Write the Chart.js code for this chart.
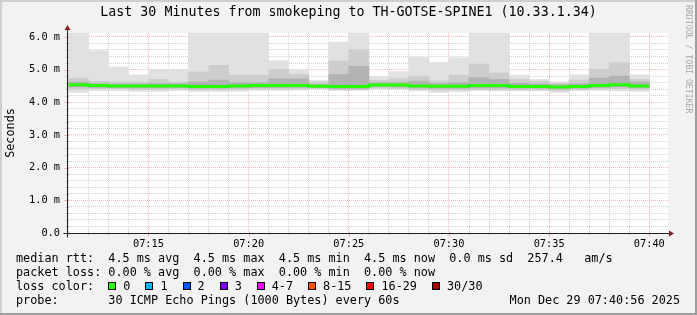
<!DOCTYPE html>
<html>
<head>
<meta charset="utf-8">
<title>Last 30 Minutes from smokeping to TH-GOTSE-SPINE1</title>
<script src="https://cdn.jsdelivr.net/npm/chart.js@4.4.1/dist/chart.umd.min.js"></script>
<style>
    html, body { margin: 0; padding: 0; background: #f2f2f2; }
    canvas { display: block; }
</style>
</head>
<body>
<canvas id="smokeChart" width="697" height="315"></canvas>
<script>
// ============================================
// Smokeping detail graph
// ============================================
// one column per 60 s step, labelled by the step end time, RTT in ms

const graphEnd = '07:40:56';
const graphSpanMinutes = 30;

const stepEnd = ['07:12', '07:13', '07:14', '07:15', '07:16', '07:17', '07:18', '07:19', '07:20', '07:21',
                 '07:22', '07:23', '07:24', '07:25', '07:26', '07:27', '07:28', '07:29', '07:30', '07:31',
                 '07:32', '07:33', '07:34', '07:35', '07:36', '07:37', '07:38', '07:39', '07:40'];

// smoke: slowest ping, upper bands, median, lower bands, fastest ping
const rttMax    = [6.20, 5.58, 5.08, 4.84, 5.01, 5.01, 6.20, 6.20, 6.20, 6.20,
                   5.27, 4.99, 4.67, 5.84, 6.20, 4.79, 4.94, 5.37, 5.22, 5.36,
                   6.20, 6.20, 4.83, 4.70, 4.63, 4.84, 6.20, 6.20, 4.84];
const rttHigh2  = [4.73, 4.64, 4.62, 4.62, 4.70, 4.62, 4.93, 5.13, 4.83, 4.83,
                   5.01, 4.85, 4.62, 5.26, 5.61, 4.67, 4.72, 4.80, 4.66, 4.83,
                   5.17, 4.90, 4.70, 4.64, 4.58, 4.68, 5.01, 5.21, 4.70];
const rttHigh1  = [4.62, 4.57, 4.56, 4.56, 4.58, 4.57, 4.62, 4.68, 4.60, 4.60,
                   4.72, 4.72, 4.55, 4.85, 5.10, 4.60, 4.60, 4.65, 4.58, 4.60,
                   4.75, 4.70, 4.58, 4.56, 4.54, 4.57, 4.74, 4.80, 4.62];
const rttMedian = [4.54, 4.51, 4.50, 4.50, 4.50, 4.50, 4.48, 4.48, 4.50, 4.51,
                   4.51, 4.51, 4.49, 4.48, 4.48, 4.53, 4.53, 4.50, 4.49, 4.49,
                   4.51, 4.51, 4.48, 4.48, 4.47, 4.48, 4.51, 4.54, 4.50];
const rttLow1   = [4.47, 4.45, 4.45, 4.44, 4.44, 4.45, 4.43, 4.43, 4.44, 4.45,
                   4.45, 4.46, 4.45, 4.42, 4.42, 4.48, 4.47, 4.44, 4.43, 4.43,
                   4.44, 4.44, 4.43, 4.43, 4.41, 4.43, 4.45, 4.47, 4.44];
const rttLow2   = [4.40, 4.41, 4.41, 4.39, 4.39, 4.40, 4.38, 4.38, 4.39, 4.40,
                   4.40, 4.41, 4.42, 4.38, 4.38, 4.43, 4.42, 4.39, 4.37, 4.38,
                   4.38, 4.38, 4.38, 4.38, 4.36, 4.38, 4.40, 4.41, 4.39];
const rttMin    = [4.30, 4.36, 4.36, 4.33, 4.33, 4.36, 4.33, 4.33, 4.33, 4.36,
                   4.36, 4.37, 4.40, 4.36, 4.36, 4.40, 4.40, 4.35, 4.30, 4.33,
                   4.36, 4.35, 4.35, 4.35, 4.30, 4.36, 4.36, 4.35, 4.33];

// axis labels
const yTickValues = [0, 1, 2, 3, 4, 5, 6];
const yTickLabels = ['0.0', '1.0 m', '2.0 m', '3.0 m', '4.0 m', '5.0 m', '6.0 m'];
const yAxisMax = 6.12;
const xTickLabels = ['07:15', '07:20', '07:25', '07:30', '07:35', '07:40'];

// legend texts
const titleText = 'Last 30 Minutes from smokeping to TH-GOTSE-SPINE1 (10.33.1.34)';
const rttLegend = 'median rtt:  4.5 ms avg  4.5 ms max  4.5 ms min  4.5 ms now  0.0 ms sd  257.4   am/s';
const lossLegend = 'packet loss: 0.00 % avg  0.00 % max  0.00 % min  0.00 % now';
const lossLabels = ['0', '1', '2', '3', '4-7', '8-15', '16-29', '30/30'];
const lossColors = ['#26ff00', '#00b8ff', '#0059ff', '#7e00ff', '#ff00ff', '#ff5500', '#ff0000', '#a10000'];
const probeLegend = 'probe:       30 ICMP Echo Pings (1000 Bytes) every 60s';
const stampText = 'Mon Dec 29 07:40:56 2025';
const watermark = 'RRDTOOL / TOBI OETIKER';

// ---- helpers ----
const MONO = '"DejaVu Sans Mono", "Liberation Mono", monospace';
const MINOR_GRID = 'rgba(165,165,165,0.5)';
const MAJOR_GRID = 'rgba(222,79,79,0.4)';

function toMinutes(hhmm) {
    const p = hhmm.split(':').map(Number);
    return p[0] * 60 + p[1] + (p[2] || 0) / 60;
}

const xMax = toMinutes(graphEnd);
const xMin = xMax - graphSpanMinutes;

function band(lo, hi) {
    return stepEnd.map((t, i) => ({ x: toMinutes(t) - 0.5, y: [lo[i], hi[i]] }));
}

function isMajorY(v) {
    return yTickValues.some(t => Math.abs(t - v) < 1e-6);
}

function xLabelFor(v) {
    const hit = xTickLabels.find(l => Math.abs(toMinutes(l) - v) < 1e-6);
    return hit || '';
}

// median line: every step holds until its end time
const medianPoints = [{ x: toMinutes(stepEnd[0]) - 1, y: rttMedian[0] }]
    .concat(stepEnd.map((t, i) => ({ x: toMinutes(t), y: rttMedian[i] })));

// background, frame, axes with arrows, title and legend block
const rrdDecor = {
    id: 'rrdDecor',
    beforeDraw(chart) {
        const { ctx, chartArea: a, width, height } = chart;
        ctx.save();
        ctx.fillStyle = '#f2f2f2';
        ctx.fillRect(0, 0, width, height);
        ctx.fillStyle = '#cfcfcf';
        ctx.fillRect(0, 0, width, 2);
        ctx.fillRect(0, 0, 2, height);
        ctx.fillStyle = '#9e9e9e';
        ctx.fillRect(0, height - 2, width, 2);
        ctx.fillRect(width - 2, 0, 2, height);
        ctx.fillStyle = '#ffffff';
        ctx.fillRect(a.left, a.top, a.right - a.left, a.bottom - a.top);
        ctx.restore();
    },
    afterDraw(chart) {
        const { ctx, chartArea: a, width } = chart;
        const xs = chart.scales.x;
        const ys = chart.scales.y;
        const x0 = Math.round(a.left) + 0.5;
        const y0 = Math.round(a.bottom) + 0.5;
        ctx.save();

        // tick marks
        ctx.lineWidth = 1;
        xs.ticks.forEach(t => {
            const px = Math.round(xs.getPixelForValue(t.value)) + 0.5;
            const major = xLabelFor(t.value) !== '';
            ctx.strokeStyle = major ? MAJOR_GRID : MINOR_GRID;
            ctx.beginPath();
            ctx.moveTo(px, y0 - 2);
            ctx.lineTo(px, y0 + (major ? 3 : 2));
            ctx.stroke();
        });
        ys.ticks.forEach(t => {
            const py = Math.round(ys.getPixelForValue(t.value)) + 0.5;
            const major = isMajorY(t.value);
            ctx.strokeStyle = major ? MAJOR_GRID : MINOR_GRID;
            ctx.beginPath();
            ctx.moveTo(x0 - (major ? 3 : 2), py);
            ctx.lineTo(x0 + 2, py);
            ctx.stroke();
        });

        // axes
        ctx.strokeStyle = '#1f1f1f';
        ctx.beginPath();
        ctx.moveTo(x0 - 4, y0);
        ctx.lineTo(a.right + 2, y0);
        ctx.moveTo(x0, y0 + 4);
        ctx.lineTo(x0, a.top - 4);
        ctx.stroke();

        // arrows
        ctx.fillStyle = '#801f1f';
        ctx.beginPath();
        ctx.moveTo(a.right + 6, y0);
        ctx.lineTo(a.right + 1, y0 - 3);
        ctx.lineTo(a.right + 1, y0 + 3);
        ctx.closePath();
        ctx.fill();
        ctx.beginPath();
        ctx.moveTo(x0, a.top - 8);
        ctx.lineTo(x0 - 3, a.top - 3);
        ctx.lineTo(x0 + 3, a.top - 3);
        ctx.closePath();
        ctx.fill();

        // title
        ctx.fillStyle = '#000000';
        ctx.font = '13.3px ' + MONO;
        ctx.textAlign = 'center';
        ctx.textBaseline = 'middle';
        ctx.fillText(titleText, width / 2, 13);

        // legend block
        ctx.font = '11.8px ' + MONO;
        ctx.textAlign = 'left';
        ctx.fillText(rttLegend, 16, 259);
        ctx.fillText(lossLegend, 16, 273);
        ctx.fillText('loss color:', 16, 287);
        const cw = ctx.measureText('0').width;
        let bx = 16 + 13 * cw;
        lossLabels.forEach((label, i) => {
            ctx.fillStyle = lossColors[i];
            ctx.fillRect(Math.round(bx), 282, 8, 8);
            ctx.strokeStyle = '#000000';
            ctx.strokeRect(Math.round(bx) + 0.5, 282.5, 7, 7);
            ctx.fillStyle = '#000000';
            ctx.fillText(label, bx + 15, 287);
            bx += 15 + ctx.measureText(label).width + 15;
        });
        ctx.fillText(probeLegend, 16, 301);
        ctx.textAlign = 'right';
        ctx.fillText(stampText, 680, 301);

        // watermark on the right edge
        ctx.translate(688, 5);
        ctx.rotate(Math.PI / 2);
        ctx.font = '8.2px ' + MONO;
        ctx.textAlign = 'left';
        ctx.fillStyle = '#a8a8a8';
        ctx.fillText(watermark, 0, 0);
        ctx.restore();
    }
};

const smokeBar = {
    type: 'bar',
    grouped: false,
    borderWidth: 0,
    barPercentage: 1,
    categoryPercentage: 1,
    clip: 0
};

new Chart(document.getElementById('smokeChart'), {
    data: {
        datasets: [
            {
                type: 'line',
                label: 'median rtt',
                data: medianPoints,
                borderColor: lossColors[0],
                borderWidth: 3,
                pointRadius: 0,
                stepped: 'after',
                fill: false,
                order: 0
            },
            Object.assign({ label: 'smoke inner', data: band(rttLow1, rttHigh1), backgroundColor: '#b2b2b2', order: 1 }, smokeBar),
            Object.assign({ label: 'smoke mid', data: band(rttLow2, rttHigh2), backgroundColor: '#cdcdcd', order: 2 }, smokeBar),
            Object.assign({ label: 'smoke outer', data: band(rttMin, rttMax), backgroundColor: '#e1e1e1', order: 3 }, smokeBar)
        ]
    },
    options: {
        responsive: false,
        animation: false,
        devicePixelRatio: 1,
        layout: { padding: { left: 0, top: 33, right: 29, bottom: 62 } },
        plugins: {
            legend: { display: false },
            title: { display: false },
            tooltip: { enabled: false }
        },
        scales: {
            x: {
                type: 'linear',
                min: xMin,
                max: xMax,
                offset: false,
                z: 1,
                afterBuildTicks: (scale) => {
                    const first = toMinutes(stepEnd[0]) - 1;
                    scale.ticks = [{ value: first }].concat(stepEnd.map(t => ({ value: toMinutes(t) })));
                },
                afterFit: (scale) => { scale.height = 20; },
                grid: {
                    offset: false,
                    drawTicks: false,
                    lineWidth: 1,
                    color: (ctx) => xLabelFor(ctx.tick.value) ? MAJOR_GRID : MINOR_GRID
                },
                border: { display: false, dash: [1, 1] },
                ticks: {
                    autoSkip: false,
                    maxRotation: 0,
                    padding: 5,
                    color: '#000000',
                    font: { family: MONO, size: 10.3 },
                    callback: (value) => xLabelFor(value)
                }
            },
            y: {
                type: 'linear',
                min: 0,
                max: yAxisMax,
                z: 1,
                afterBuildTicks: (scale) => {
                    const ticks = [];
                    for (let i = 0; i <= 30; i++) ticks.push({ value: i / 5 });
                    scale.ticks = ticks;
                },
                afterFit: (scale) => { scale.width = 67; },
                grid: {
                    drawTicks: false,
                    lineWidth: 1,
                    color: (ctx) => isMajorY(ctx.tick.value) ? MAJOR_GRID : MINOR_GRID
                },
                border: { display: false, dash: [1, 1] },
                title: {
                    display: true,
                    text: 'Seconds',
                    color: '#000000',
                    font: { family: MONO, size: 11.8 },
                    padding: { top: 4, bottom: 0 }
                },
                ticks: {
                    autoSkip: false,
                    padding: 7,
                    color: '#000000',
                    font: { family: MONO, size: 10.3 },
                    callback: (value) => {
                        const k = yTickValues.findIndex(t => Math.abs(t - value) < 1e-6);
                        return k >= 0 ? yTickLabels[k] : '';
                    }
                }
            }
        }
    },
    plugins: [rrdDecor]
});
</script>
</body>
</html>
